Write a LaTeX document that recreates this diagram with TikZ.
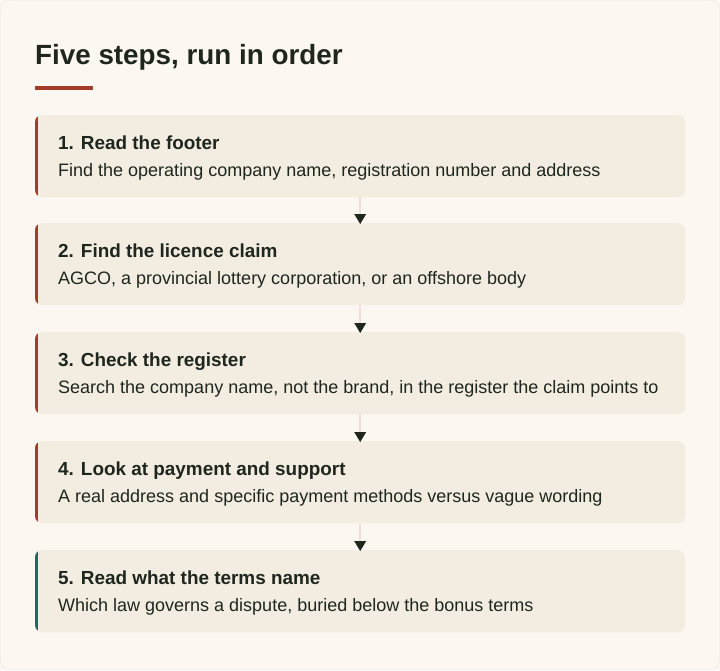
\documentclass[tikz,border=0pt]{standalone}
\usepackage{fontspec}
\setmainfont{Liberation Sans}
\usetikzlibrary{arrows.meta,positioning}
\definecolor{pagebg}{RGB}{252,248,241}
\definecolor{framecol}{RGB}{236,228,216}
\definecolor{cardbg}{RGB}{243,237,225}
\definecolor{accentred}{RGB}{163,58,42}
\definecolor{accentteal}{RGB}{31,107,94}
\definecolor{inkdark}{RGB}{30,38,30}
\definecolor{linkcol}{RGB}{237,225,220}

\begin{document}
\begin{tikzpicture}[
    x=1pt, y=-1pt,
    every node/.style={inner sep=0pt, text=inkdark},
    card/.style={draw=none, fill=cardbg, rounded corners=7pt, minimum width=650pt, minimum height=82pt, anchor=north west},
    steptitle/.style={font=\fontsize{18.9}{22}\selectfont\bfseries, anchor=base west},
    stepdesc/.style={font=\fontsize{18}{21}\selectfont, anchor=base west},
    link/.style={draw=linkcol, line width=1.5pt},
    tip/.style={fill=inkdark},
]
\useasboundingbox (0,0) rectangle (720,670);
\fill[pagebg] (0,0) rectangle (720,670);
\draw[framecol, rounded corners=8pt] (0.5,0.5) rectangle (719.5,669.5);

% Title
\node[font=\fontsize{27.8}{32}\selectfont\bfseries, anchor=base west] (title) at (35,64) {Five steps, run in order};
\fill[accentred] (35,86) rectangle (93,90);

% Cards
\foreach \i/\y/\col/\head/\body in {
  1/115/accentred/{1. Read the footer}/{Find the operating company name, registration number and address},
  2/223/accentred/{2. Find the licence claim}/{AGCO, a provincial lottery corporation, or an offshore body},
  3/332/accentred/{3. Check the register}/{Search the company name, not the brand, in the register the claim points to},
  4/441/accentred/{4. Look at payment and support}/{A real address and specific payment methods versus vague wording},
  5/550/accentteal/{5. Read what the terms name}/{Which law governs a dispute, buried below the bonus terms}} {
  \node[card] (step\i) at (35,\y) {};
  \begin{scope}
    \clip[rounded corners=7pt] (35,\y) rectangle ++(650,82);
    \fill[\col] (35,\y) rectangle ++(3,82);
  \end{scope}
  \node[steptitle] (head\i) at (58,\y+34) {\head};
  \node[stepdesc] (body\i) at (58,\y+61) {\body};
}

% Connectors
\foreach \a/\b in {1/2,2/3,3/4,4/5} {
  \draw[link] (step\a.south) -- (step\b.north);
  \coordinate (tip\a) at ([yshift=-1pt]step\b.north);
  \fill[tip] (tip\a) -- ++(-6,-10) -- ++(12,0) -- cycle;
}
\end{tikzpicture}
\end{document}
